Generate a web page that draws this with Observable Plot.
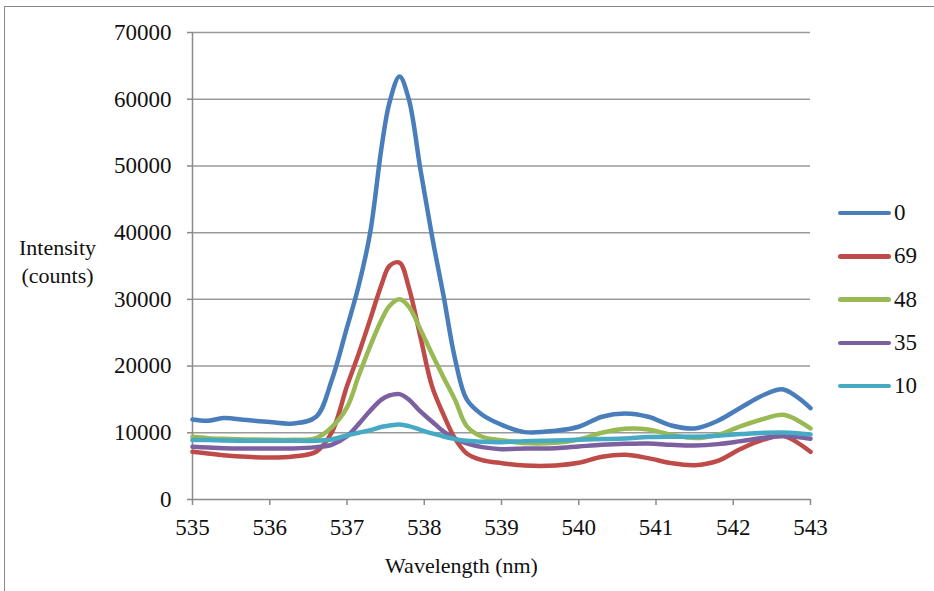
<!DOCTYPE html>
<html>
<head>
<meta charset="utf-8">
<script src="https://cdn.jsdelivr.net/npm/d3@7"></script>
<script src="https://cdn.jsdelivr.net/npm/@observablehq/plot@0.6"></script>
<style>
  html, body { margin: 0; padding: 0; background: #fff; }
  #wrap { position: relative; width: 934px; height: 591px; overflow: hidden; font-family: "Liberation Serif", "Times New Roman", serif; }
  #frame { position: absolute; left: 4px; top: 6px; width: 2000px; height: 2000px; border-top: 1.5px solid #8a8a8a; border-left: 1.5px solid #8a8a8a; pointer-events: none; }
  #chart { position: absolute; left: 0; top: 0; }
  #chart svg, #chart svg text { font-family: "Liberation Serif", "Times New Roman", serif !important; }
  .leg { position: absolute; left: 838px; display: flex; align-items: center; font-size: 23px; color: #111; }
  .leg .sw { width: 53px; height: 4.5px; border-radius: 3px; margin-right: 3px; }
</style>
</head>
<body>
<div id="wrap"><div id="frame"></div><div id="chart"></div></div>
<script>
// Wavelength sample positions (nm)
const wavelengths = [535.0, 535.2, 535.4, 535.7, 536.0, 536.3, 536.6, 536.8, 537.0, 537.15, 537.3, 537.45, 537.55, 537.68, 537.8, 537.95, 538.1, 538.25, 538.4, 538.55, 538.75, 539.0, 539.3, 539.7, 540.0, 540.3, 540.6, 540.9, 541.2, 541.5, 541.8, 542.1, 542.4, 542.65, 543.0];

// Intensity (counts) per series
const s0  = [12000, 11800, 12200, 11900, 11600, 11400, 12400, 17800, 25800, 32000, 40000, 53000, 59500, 63400, 60000, 49500, 39500, 30500, 21000, 15000, 12700, 11200, 10100, 10300, 10900, 12400, 12900, 12400, 11100, 10650, 11800, 13800, 15700, 16500, 13700];
const s69 = [7150, 6900, 6650, 6400, 6300, 6450, 7150, 10000, 17000, 21800, 27000, 32300, 35000, 35500, 31800, 24400, 17000, 12700, 9100, 6900, 5900, 5450, 5100, 5100, 5500, 6400, 6700, 6200, 5450, 5150, 5800, 7600, 9000, 9500, 7150];
const s48 = [9400, 9200, 9100, 9000, 8950, 8950, 9200, 10800, 13800, 18500, 23000, 27000, 29000, 30000, 28900, 25500, 21800, 18300, 14900, 11000, 9400, 8900, 8450, 8500, 9000, 10000, 10600, 10500, 9700, 9200, 9700, 11000, 12100, 12700, 10650];
const s35 = [7900, 7800, 7700, 7650, 7650, 7650, 7850, 8200, 9500, 11300, 13300, 15000, 15600, 15800, 15000, 13200, 11700, 10200, 9100, 8400, 7850, 7550, 7650, 7700, 7950, 8200, 8350, 8400, 8200, 8100, 8300, 8750, 9250, 9500, 9100];
const s10 = [8900, 8900, 8850, 8800, 8800, 8800, 8800, 9000, 9600, 10000, 10400, 10900, 11100, 11250, 11000, 10450, 9900, 9450, 9050, 8800, 8650, 8600, 8750, 8850, 8950, 9050, 9150, 9350, 9400, 9400, 9550, 9800, 10000, 10050, 9750];

const seriesNames = ["0", "69", "48", "35", "10"];
const seriesValues = [s0, s69, s48, s35, s10];
const seriesColors = ["#4a7ebb", "#be4b48", "#98b954", "#7d60a0", "#46aac5"];

const xTicks = [535, 536, 537, 538, 539, 540, 541, 542, 543];
const yTicks = [0, 10000, 20000, 30000, 40000, 50000, 60000, 70000];

const xTitle = "Wavelength (nm)";
const yTitle = "Intensity\n(counts)";

const rows = [];
seriesNames.forEach((name, i) => {
  wavelengths.forEach((w, j) => rows.push({series: name, wl: w, v: seriesValues[i][j]}));
});

const FONT = '"Liberation Serif", "Times New Roman", serif';

const chart = Plot.plot({
  width: 934,
  height: 591,
  marginLeft: 192,
  marginRight: 124,
  marginTop: 32,
  marginBottom: 92,
  style: {fontFamily: FONT, fontSize: "22px", background: "transparent", color: "#111"},
  x: {domain: [535, 543], label: null},
  y: {domain: [0, 70000], label: null},
  color: {domain: seriesNames, range: seriesColors},
  marks: [
    Plot.gridY(yTicks.filter(d => d > 0), {stroke: "#9a9a9a", strokeOpacity: 1, strokeWidth: 1.5}),
    Plot.ruleY([0], {stroke: "#8a8a8a", strokeWidth: 1.5}),
    Plot.ruleX([535], {stroke: "#8a8a8a", strokeWidth: 1.5}),
    Plot.axisX({ticks: xTicks, tickSize: 6, tickPadding: 13, stroke: "#8a8a8a", strokeWidth: 1.5, fill: "#111", fontSize: 23, tickFormat: d => String(d), label: null}),
    Plot.axisY({ticks: yTicks, tickSize: 5, tickPadding: 16, stroke: "#8a8a8a", strokeWidth: 1.5, fill: "#111", fontSize: 23, tickFormat: d => String(d), label: null}),
    Plot.line(rows, {x: "wl", y: "v", z: "series", stroke: "series", strokeWidth: 4.5, curve: "catmull-rom", strokeLinejoin: "round", strokeLinecap: "round"}),
    Plot.text([xTitle], {frameAnchor: "bottom", dx: -40, dy: 66, text: d => d, fontSize: 22, fill: "#111", lineAnchor: "middle"}),
    Plot.text([yTitle], {frameAnchor: "left", dx: -135, dy: -6, text: d => d, fontSize: 22, fill: "#111", textAnchor: "middle", lineAnchor: "middle", lineHeight: 1.25})
  ]
});
document.getElementById("chart").appendChild(chart);

// Legend (right side)
const wrap = document.getElementById("wrap");
seriesNames.forEach((name, i) => {
  const item = document.createElement("div");
  item.className = "leg";
  item.style.top = (213 + i * 43.3 - 14) + "px";
  item.style.height = "28px";
  const sw = document.createElement("div");
  sw.className = "sw";
  sw.style.background = seriesColors[i];
  const lab = document.createElement("span");
  lab.textContent = name;
  item.appendChild(sw);
  item.appendChild(lab);
  wrap.appendChild(item);
});
</script>
</body>
</html>
